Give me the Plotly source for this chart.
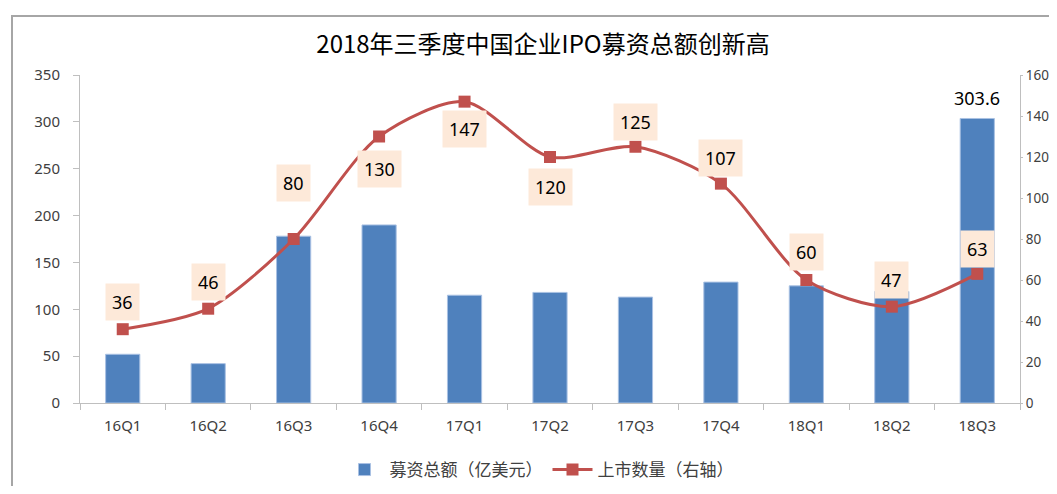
import plotly.graph_objects as go

categories = ["16Q1", "16Q2", "16Q3", "16Q4", "17Q1", "17Q2", "17Q3", "17Q4", "18Q1", "18Q2", "18Q3"]
amount = [52, 42, 178, 190, 115, 118, 113, 129, 125, 119, 303.6]
count = [36, 46, 80, 130, 147, 120, 125, 107, 60, 47, 63]
label_shift = [27, 27, 56, -32, -27, -30, 25, 26, 28, 27, 25]

title_text = "2018年三季度中国企业IPO募资总额创新高"
bar_name = "募资总额（亿美元）"
line_name = "上市数量（右轴）"

W, H = 1041, 478  # page body has an 8px margin

fig = go.Figure()
fig.add_trace(go.Bar(
    x=categories, y=amount, name=bar_name,
    marker=dict(color="#4F81BD", line=dict(color="#A9C1E3", width=1)),
    width=0.4, yaxis="y",
))
fig.add_trace(go.Scatter(
    x=categories, y=count, name=line_name, yaxis="y2",
    mode="lines+markers",
    line=dict(color="#C0504D", width=3, shape="spline", smoothing=0.8),
    marker=dict(symbol="square", size=12, color="#C0504D"),
))

annotations = []
for c, v, s in zip(categories, count, label_shift):
    annotations.append(dict(
        x=c, y=v, xref="x", yref="y2", text=str(v), showarrow=False,
        yshift=s, bgcolor="#FDE9D9", borderpad=6,
        font=dict(family="Noto Sans, DejaVu Sans", size=18, color="#000000"),
    ))
annotations.append(dict(
    x=categories[-1], y=amount[-1], xref="x", yref="y", text=str(amount[-1]),
    showarrow=False, yshift=20,
    font=dict(family="Noto Sans, DejaVu Sans", size=18, color="#000000"),
))

axis_font = dict(family="Noto Sans, DejaVu Sans", size=15, color="#404040")
right_font = dict(family="Noto Sans, DejaVu Sans", size=13.5, color="#404040")
fig.update_layout(
    width=W, height=H,
    paper_bgcolor="white", plot_bgcolor="white",
    margin=dict(l=72, r=29, t=67, b=83, autoexpand=False),
    title=dict(text=title_text, x=535/W, xanchor="center", y=1-37/H, yanchor="middle",
               font=dict(family="Noto Sans CJK SC", size=24, color="#000000")),
    xaxis=dict(type="category", range=[-0.5, 10.5], showline=True, linecolor="#BFBFBF",
               linewidth=1, ticks="outside", tickson="boundaries", ticklen=6,
               tickcolor="#BFBFBF", tickfont=axis_font, showgrid=False, automargin=False,
               ticklabelstandoff=9),
    yaxis=dict(range=[0, 350], dtick=50, showline=True, linecolor="#BFBFBF", linewidth=1,
               ticks="outside", ticklen=6, tickcolor="#BFBFBF", showgrid=False,
               tickfont=axis_font, zeroline=False, ticklabelstandoff=10, automargin=False),
    yaxis2=dict(range=[0, 160], dtick=20, overlaying="y", side="right", showline=True,
                linecolor="#BFBFBF", linewidth=1, ticks="outside", ticklen=2,
                tickcolor="#BFBFBF", showgrid=False, tickfont=right_font, zeroline=False,
                ticklabelstandoff=0, automargin=False),
    legend=dict(orientation="h", xref="container", yref="container",
                x=531/W, xanchor="center", y=1-462/H, yanchor="middle",
                font=dict(family="Noto Sans CJK SC", size=17, color="#404040"),
                itemwidth=40),
    annotations=annotations,
    shapes=[dict(type="rect", xref="paper", yref="paper", x0=-68/940, x1=1.1,
                 y0=-0.5, y1=1+59/328, line=dict(color="#A6A6A6", width=2))],
    showlegend=True,
)

fig.write_html("out.html")
